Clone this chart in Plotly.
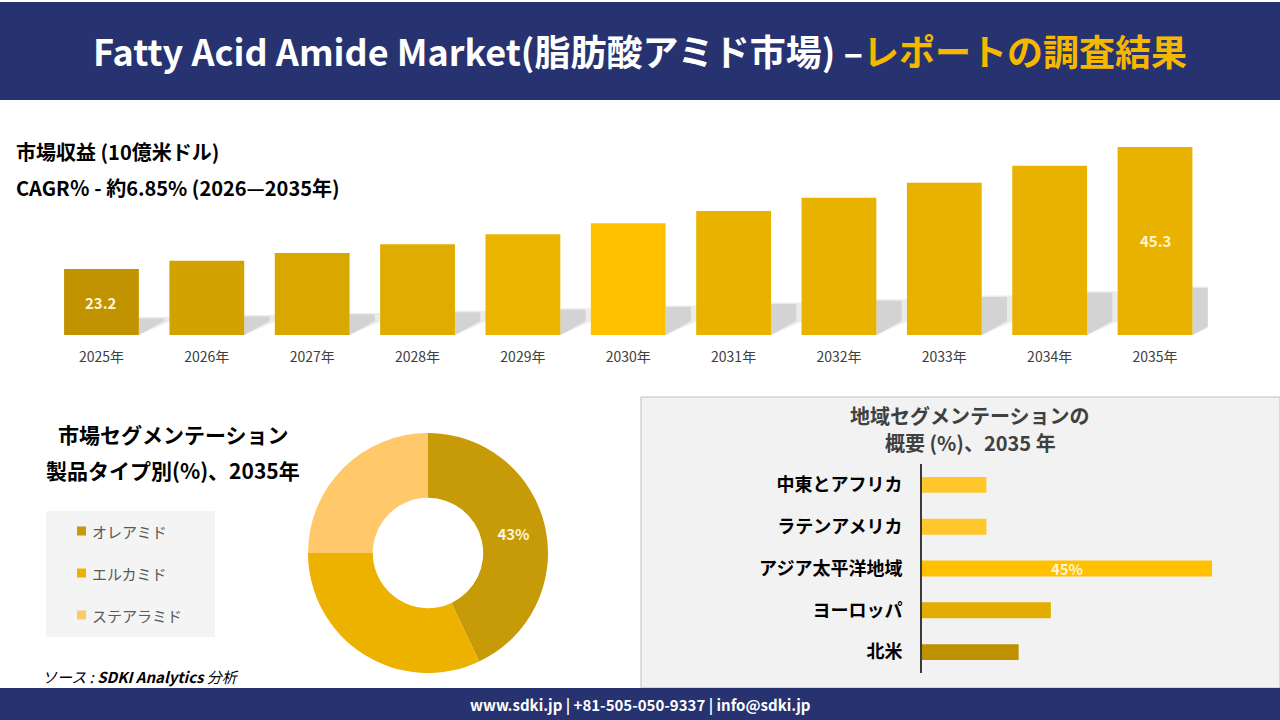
import plotly.graph_objects as go

FONT = "Noto Sans CJK JP"
W, H = 1280, 720
NAVY = "#263370"

# --- data -------------------------------------------------------------
years = ["2025年", "2026年", "2027年", "2028年", "2029年", "2030年",
         "2031年", "2032年", "2033年", "2034年", "2035年"]
revenue = [23.2, 24.7, 26.1, 27.7, 29.5, 31.5, 33.7, 36.1, 38.8, 41.9, 45.3]
revenue_labels = ["23.2", "", "", "", "", "", "", "", "", "", "45.3"]
revenue_colors = ["#C29300", "#D2A200", "#D9A800", "#E0AC00", "#EAB400", "#FFC000",
                  "#EAB200", "#EAB200", "#EAB200", "#EAB200", "#EAB200"]

product_types = ["オレアミド", "エルカミド", "ステアラミド"]
product_share = [43, 32, 25]
product_labels = ["43%", "", ""]
product_colors = ["#C79A08", "#EDB200", "#FFC86A"]

regions = ["中東とアフリカ", "ラテンアメリカ", "アジア太平洋地域", "ヨーロッパ", "北米"]
region_share = [10, 10, 45, 20, 15]
region_labels = ["", "", "45%", "", ""]
region_colors = ["#FFC72C", "#FFC72C", "#FFC000", "#E3AC00", "#BF9000"]

Y0 = 11.25          # value at the drawn baseline of the revenue bars
Y_PER_PX = 0.1811   # revenue units per pixel in the top panel


def px(x):
    return x / W


def py(y):
    return 1 - y / H


def note(x, y, text, size, color="black", xanchor="center", **kw):
    return dict(x=px(x), y=py(y), xref="paper", yref="paper", showarrow=False,
                xanchor=xanchor, yanchor="middle", text=text,
                font=dict(family=FONT, size=size, color=color), **kw)


fig = go.Figure()

# revenue bars (top)
xi = list(range(len(years)))
fig.add_trace(go.Bar(
    x=xi, y=revenue, width=0.71, marker=dict(color=revenue_colors, line=dict(width=0)),
    hoverinfo="skip", showlegend=False, xaxis="x", yaxis="y",
))

# product type donut
fig.add_trace(go.Pie(
    labels=product_types, values=product_share, text=product_labels, textinfo="text",
    hole=0.46, sort=False, direction="clockwise", rotation=0,
    marker=dict(colors=product_colors, line=dict(width=0)),
    textposition="inside", insidetextorientation="horizontal",
    textfont=dict(family=FONT, size=15, color="#FFF5D6", weight="bold"),
    domain=dict(x=[px(308), px(548)], y=[py(673), py(433)]),
    showlegend=False, hoverinfo="skip",
))

# regional bars
fig.add_trace(go.Bar(
    y=regions, x=region_share, orientation="h", width=0.38,
    marker=dict(color=region_colors, line=dict(width=0)),
    text=region_labels, textposition="inside", insidetextanchor="middle",
    constraintext="none",
    textfont=dict(family=FONT, size=15, color="#FFF5D6", weight="bold"),
    xaxis="x2", yaxis="y2", hoverinfo="skip", showlegend=False,
))

shapes = [
    dict(type="rect", xref="paper", yref="paper", x0=0, x1=1, y0=py(100), y1=py(2),
         fillcolor=NAVY, line=dict(width=0), layer="below"),
    dict(type="rect", xref="paper", yref="paper", x0=0, x1=1, y0=0, y1=py(688),
         fillcolor=NAVY, line=dict(width=0)),
    dict(type="rect", xref="paper", yref="paper", x0=px(641), x1=1, y0=py(688), y1=py(397),
         fillcolor="#F2F2F2", line=dict(color="#BFBFBF", width=1), layer="below"),
    dict(type="rect", xref="paper", yref="paper", x0=px(46), x1=px(215), y0=py(637), y1=py(511),
         fillcolor="#F4F4F4", line=dict(width=0), layer="below"),
]

# soft shadows to the right of each revenue bar (two layers for a fade)
rise = 14 * Y_PER_PX
for i, v in enumerate(revenue):
    right = i + 0.355
    top = Y0 + 0.25 * (v - Y0)
    for dx, grow, col in ((0.30, 1.5, "#EBEBEB"), (0.24, 0.0, "#D3D3D3")):
        t = top + grow * Y_PER_PX
        shapes.append(dict(
            type="path", xref="x", yref="y", layer="below",
            path=f"M {right},{Y0} L {right},{t} L {right + dx},{t} "
                 f"L {right + dx},{min(Y0 + rise, t)} Z",
            fillcolor=col, line=dict(width=0),
        ))

annotations = [
    note(640, 50, "<b>Fatty Acid Amide Market(脂肪酸アミド市場) –</b>"
                  "<span style='color:#F5B700'><b>レポートの調査結果</b></span>",
         36, "white"),
    note(14, 151, "<b>市場収益 (10億米ドル)</b>", 20, xanchor="left"),
    note(14, 188, "<b>CAGR％ - 約6.85% (2026—2035年)</b>", 20, xanchor="left"),
    note(173, 434, "<b>市場セグメンテーション</b>", 21),
    note(173, 470, "<b>製品タイプ別(%)、2035年</b>", 21),
    note(970, 416, "<b>地域セグメンテーションの</b>", 20, "#404040"),
    note(970, 442, "<b>概要 (%)、2035 年</b>", 20, "#404040"),
    note(40, 676, "<i>ソース : <b>SDKI Analytics</b> 分析</i>", 15, xanchor="left"),
    note(640, 705, "<b>www.sdki.jp | +81-505-050-9337 | info@sdki.jp</b>", 15, "white"),
]

# value labels inside the first and last revenue bars
for i, (v, lab) in enumerate(zip(revenue, revenue_labels)):
    if lab:
        annotations.append(dict(
            x=i, y=(Y0 + v) / 2, xref="x", yref="y", showarrow=False, text=f"<b>{lab}</b>",
            xanchor="center", yanchor="middle",
            font=dict(family=FONT, size=15, color="#FFF5D6")))

# hand-drawn legend for the donut
for k, (name, col) in enumerate(zip(product_types, product_colors)):
    yc = 531 + 42 * k
    shapes.append(dict(type="rect", xref="paper", yref="paper",
                       x0=px(77), x1=px(86), y0=py(yc + 4.5), y1=py(yc - 4.5),
                       fillcolor=col, line=dict(width=0)))
    annotations.append(note(90, yc, name, 15, "#595959", xanchor="left"))

fig.update_layout(
    width=W, height=H, margin=dict(l=0, r=0, t=0, b=0),
    paper_bgcolor="white", plot_bgcolor="rgba(0,0,0,0)",
    font=dict(family=FONT),
    xaxis=dict(domain=[px(48.8), px(1207.7)], range=[-0.5, len(years) - 0.5],
               tickvals=xi, ticktext=years, showgrid=False, zeroline=False, showline=False,
               ticks="", ticklabelstandoff=12, tickfont=dict(family=FONT, size=14, color="#404040"),
               fixedrange=True),
    yaxis=dict(domain=[py(335), py(140)], range=[Y0, Y0 + 195 * Y_PER_PX], visible=False,
               fixedrange=True),
    xaxis2=dict(domain=[px(922), px(1260)], range=[0, 52.45], visible=False,
                anchor="y2", fixedrange=True),
    yaxis2=dict(domain=[py(673), py(464)], anchor="x2", type="category",
                categoryorder="array", categoryarray=regions,
                range=[len(regions) - 0.5, -0.5], showgrid=False, zeroline=False,
                showline=True, linecolor="#3A3A3A", linewidth=2, ticks="",
                ticklabelstandoff=14,
                tickfont=dict(family=FONT, size=18, color="black", weight="bold"),
                fixedrange=True),
    shapes=shapes, annotations=annotations,
)

fig.write_html("out.html", config={"displayModeBar": False},
               post_script="document.body.style.margin='0';")
